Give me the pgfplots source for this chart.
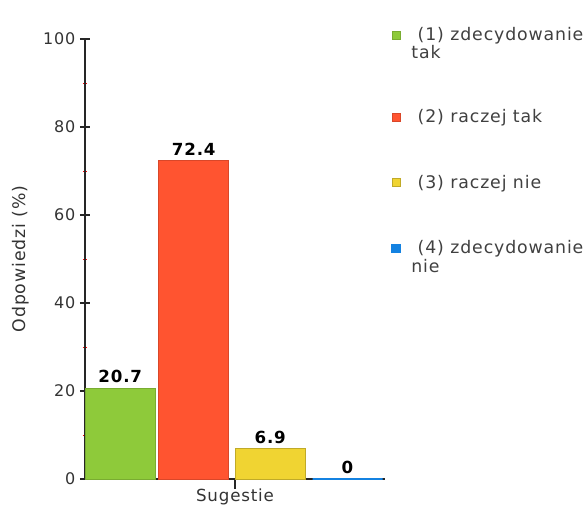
\documentclass[border=0pt]{standalone}
\usepackage{pgfplots}
\pgfplotsset{compat=1.18}
\usepackage{fontspec}
\setmainfont{DejaVu Sans}[LetterSpace=5]
\definecolor{cgreen}{RGB}{142,202,58}
\definecolor{cred}{RGB}{255,84,48}
\definecolor{cyellow}{RGB}{240,212,50}
\definecolor{cblue}{RGB}{20,130,225}
\begin{document}
\begin{tikzpicture}
\path[use as bounding box] (-63.75pt,-20.25pt) rectangle (377.25pt,359.25pt);
\begin{axis}[
  at={(0pt,0pt)}, anchor=south west,
  scale only axis, width=225pt, height=330pt,
  xmin=-2, xmax=2, ymin=0, ymax=100,
  axis x line=bottom, axis y line=left,
  axis line style={-, line width=1pt, black!85},
  ytick={0,20,40,60,80,100},
  minor ytick={10,30,50,70,90},
  xtick={0}, xticklabels={Sugestie},
  tick align=center,
  major tick length=7.5pt, minor tick length=3pt,
  major tick style={line width=0.9pt, black!85},
  minor tick style={line width=0.6pt, red},
  tick label style={font=\fontsize{12}{14}\selectfont, black!80},
  xticklabel style={font=\fontsize{12.5}{14}\selectfont, yshift=3.5pt},
  /pgf/number format/assume math mode=true,
  ylabel={Odpowiedzi (\%)},
  ylabel style={at={(axis description cs:-0.215,0.5)}, anchor=center, font=\fontsize{13}{14}\selectfont, black!80},
  ybar, bar width=52.5pt, bar shift=0pt,
  nodes near coords,
  nodes near coords style={font=\fontsize{12.5}{14}\selectfont\bfseries, black, anchor=south},
  every node near coord/.append style={/pgf/number format/fixed, /pgf/number format/precision=1},
  legend style={draw=none, fill=none, at={(axis description cs:1.007,1.04)}, anchor=north west,
    font=\fontsize{13}{13}\selectfont, text=black!75, row sep=34pt,
    nodes={anchor=base west, inner xsep=8pt}},
  legend image code/.code={\fill[#1] (0pt,1pt) rectangle (6pt,7pt);},
]
\addplot[fill=cgreen, draw=cgreen!85!black] coordinates {(-1.53,20.7)};
\addplot[fill=cred, draw=cred!85!black] coordinates {(-0.55,72.4)};
\addplot[fill=cyellow, draw=cyellow!80!black] coordinates {(0.47,6.9)};
\addplot[fill=cblue, draw=cblue, line width=1pt] coordinates {(1.5,0)};
\legend{{\begin{tabular}[t]{@{}l@{}}\ (1) zdecydowanie\\tak\end{tabular}},
        {\rule{0pt}{22pt}\ (2) raczej tak},
        {\ (3) raczej nie},
        {\begin{tabular}[t]{@{}l@{}}\ (4) zdecydowanie\\nie\end{tabular}}}
\end{axis}
\end{tikzpicture}
\end{document}
